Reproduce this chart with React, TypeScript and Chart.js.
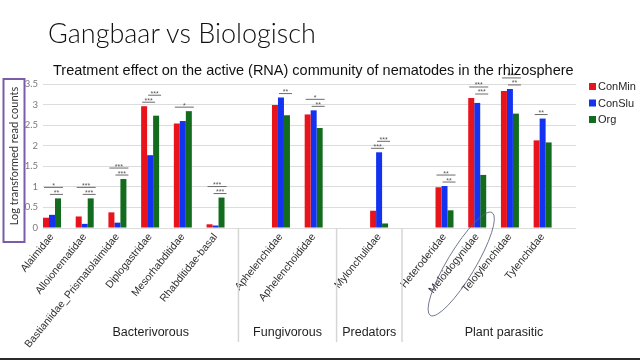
import React, { useEffect, useRef } from 'react';
import { Chart, registerables } from 'chart.js';

Chart.register(...registerables);

// ---- data ----
const categories = [
  'Alaimidae', 'Alloionematidae', 'Bastianiidae_Prismatolaimidae', 'Diplogastridae',
  'Mesorhabditidae', 'Rhabditidae-basal', '', 'Aphelenchidae', 'Aphelenchoididae', '',
  'Mylonchulidae', '', 'Heteroderidae', 'Meloidogynidae', 'Telotylenchidae', 'Tylenchidae',
];
const seriesNames = ['ConMin', 'ConSlu', 'Org'];
const conMin = [0.25, 0.28, 0.38, 2.96, 2.54, 0.09, null, 2.99, 2.76, null, 0.42, null, 0.99, 3.16, 3.33, 2.13];
const conSlu = [0.32, 0.10, 0.13, 1.77, 2.60, 0.06, null, 3.17, 2.86, null, 1.84, null, 1.02, 3.04, 3.38, 2.66];
const org = [0.72, 0.72, 1.19, 2.73, 2.84, 0.74, null, 2.74, 2.43, null, 0.11, null, 0.43, 1.29, 2.78, 2.08];
const yTickValues = [0, 0.5, 1, 1.5, 2, 2.5, 3, 3.5];
const yTickLabels = ['0', '0.5', '1', '1.5', '2', '2.5', '3', '3.5'];

const groupNames = ['Bacterivorous', 'Fungivorous', 'Predators', 'Plant parasitic'];
const groupFirst = ['Alaimidae', 'Aphelenchidae', 'Mylonchulidae', 'Heteroderidae'];
const groupLast = ['Rhabditidae-basal', 'Aphelenchoididae', 'Mylonchulidae', 'Tylenchidae'];

// significance brackets: category, from series, to series, label, tier (0 = lower, 1 = upper)
const sigCategory = [
  'Alaimidae', 'Alaimidae', 'Alloionematidae', 'Alloionematidae',
  'Bastianiidae_Prismatolaimidae', 'Bastianiidae_Prismatolaimidae',
  'Diplogastridae', 'Diplogastridae', 'Mesorhabditidae',
  'Rhabditidae-basal', 'Rhabditidae-basal', 'Aphelenchidae',
  'Aphelenchoididae', 'Aphelenchoididae', 'Mylonchulidae', 'Mylonchulidae',
  'Heteroderidae', 'Heteroderidae', 'Meloidogynidae', 'Meloidogynidae',
  'Telotylenchidae', 'Telotylenchidae', 'Tylenchidae',
];
const sigFrom = [0, 1, 0, 1, 0, 1, 0, 1, 0, 0, 1, 1, 0, 1, 0, 1, 0, 1, 0, 1, 0, 1, 0];
const sigTo = [2, 2, 2, 2, 2, 2, 1, 2, 2, 2, 2, 2, 2, 2, 1, 2, 2, 2, 2, 2, 2, 2, 1];
const sigLabel = ['*', '**', '***', '***', '***', '***', '***', '***', '*', '***', '***', '**',
  '*', '**', '***', '***', '**', '**', '***', '***', '***', '**', '**'];
const sigTier = [1, 0, 1, 0, 1, 0, 0, 1, 0, 1, 0, 0, 1, 0, 0, 1, 1, 0, 1, 0, 1, 0, 0];

const highlighted = 'Meloidogynidae';

const colors = ['#e8141c', '#1433f0', '#136b1e'];
const SANS = '"Liberation Sans", Arial, sans-serif';

const extrasPlugin = {
  id: 'extras',
  afterDatasetsDraw(chart: any) {
    const { ctx, scales } = chart;
    const y = scales.y;
    ctx.save();
    // significance brackets
    sigCategory.forEach((cat, k) => {
      const ci = categories.indexOf(cat);
      const metas = [0, 1, 2].map((d) => chart.getDatasetMeta(d).data[ci]);
      const vals = [conMin[ci], conSlu[ci], org[ci]] as number[];
      const top = y.getPixelForValue(Math.max(...vals));
      const a = metas[sigFrom[k]];
      const b = metas[sigTo[k]];
      const x0 = a.x - a.width / 2 + 1;
      const x1 = b.x + b.width / 2 + 2;
      const ly = top - 4.5 - sigTier[k] * 7;
      ctx.strokeStyle = '#6b6b6b';
      ctx.lineWidth = 1;
      ctx.beginPath();
      ctx.moveTo(x0, ly + 0.5);
      ctx.lineTo(x1, ly + 0.5);
      ctx.stroke();
      ctx.fillStyle = '#555';
      ctx.font = `7px ${SANS}`;
      ctx.textAlign = 'center';
      ctx.textBaseline = 'alphabetic';
      ctx.fillText(sigLabel[k], (x0 + x1) / 2, ly + 1);
    });
    ctx.restore();
  },
  afterDraw(chart: any) {
    const { ctx, chartArea, scales, data } = chart;
    const x = scales.x;
    ctx.save();
    // group separators and group labels
    const bounds: number[] = [chartArea.left + 20];
    for (let g = 0; g < groupNames.length - 1; g++) {
      const last = categories.indexOf(groupLast[g]);
      const next = categories.indexOf(groupFirst[g + 1]);
      const px = x.getPixelForValue((last + next) / 2 - 0.3);
      bounds.push(px);
      ctx.strokeStyle = '#d6d6d6';
      ctx.lineWidth = 1.5;
      ctx.beginPath();
      ctx.moveTo(px, chartArea.bottom);
      ctx.lineTo(px, 342);
      ctx.stroke();
    }
    bounds.push(chartArea.right + 30);
    ctx.fillStyle = '#1e1e1e';
    ctx.font = `12.5px ${SANS}`;
    ctx.textAlign = 'center';
    ctx.textBaseline = 'middle';
    groupNames.forEach((name, g) => {
      ctx.fillText(name, (bounds[g] + bounds[g + 1]) / 2, 333);
    });

    // legend
    data.datasets.forEach((ds: any, i: number) => {
      const cy = 86.5 + i * 16.5;
      ctx.fillStyle = ds.backgroundColor;
      ctx.fillRect(589, cy - 3.5, 7, 7);
      ctx.fillStyle = '#262626';
      ctx.font = `11px ${SANS}`;
      ctx.textAlign = 'left';
      ctx.textBaseline = 'middle';
      ctx.fillText(ds.label, 598, cy + 0.5);
    });

    // purple frame around the axis title
    ctx.strokeStyle = '#7a5ca8';
    ctx.lineWidth = 2;
    ctx.strokeRect(3.5, 79, 21, 163);

    // hand-drawn oval around a highlighted label
    const hx = x.getPixelForValue(categories.indexOf(highlighted));
    ctx.strokeStyle = 'rgba(90,96,125,0.85)';
    ctx.lineWidth = 1;
    ctx.beginPath();
    ctx.ellipse(hx - 16, chartArea.bottom + 36, 60, 14, (-59 * Math.PI) / 180, 0, Math.PI * 2);
    ctx.stroke();
    ctx.restore();
  },
};

export default function App() {
  const ref = useRef<HTMLCanvasElement>(null);

  useEffect(() => {
    document.body.style.margin = '0';
    const series = [conMin, conSlu, org];
    const chart = new Chart(ref.current as HTMLCanvasElement, {
      type: 'bar',
      data: {
        datasets: series.map((vals, d) => ({
          label: seriesNames[d],
          data: categories.map((_, i) => ({ x: i, y: vals[i] })) as any,
          backgroundColor: colors[d],
          borderWidth: 0,
          categoryPercentage: 0.55,
          barPercentage: 1,
        })),
      },
      options: {
        responsive: false,
        animation: false,
        layout: { padding: { left: 0, right: 64, top: 84, bottom: 0 } },
        plugins: {
          legend: { display: false },
          tooltip: { enabled: false },
          title: { display: false },
        },
        scales: {
          x: {
            type: 'linear',
            offset: false,
            min: -0.275,
            max: 16.02,
            grid: { display: false, drawTicks: false },
            border: { display: false },
            afterBuildTicks: (scale: any) => {
              scale.ticks = categories
                .map((c, i) => ({ value: i, label: c }))
                .filter((t) => t.label !== '')
                .map((t) => ({ value: t.value }));
            },
            afterFit: (scale: any) => {
              scale.height = 132;
            },
            ticks: {
              autoSkip: false,
              minRotation: 51,
              maxRotation: 51,
              padding: 3,
              color: '#303030',
              font: { family: SANS, size: 10.5 },
              callback: (v: any) => categories[v] ?? '',
            },
          },
          y: {
            min: 0,
            max: 3.5,
            afterBuildTicks: (scale: any) => {
              scale.ticks = yTickValues.map((v) => ({ value: v }));
            },
            afterFit: (scale: any) => {
              scale.width = 43;
            },
            grid: { color: '#dcdcdc', drawTicks: false, lineWidth: 1 },
            border: { display: false },
            ticks: {
              padding: 5,
              color: '#7a7a7a',
              font: { family: 'Lato, sans-serif', size: 9.5 },
              callback: (v: any) => yTickLabels[yTickValues.indexOf(Number(v))] ?? String(v),
            },
            title: {
              display: true,
              text: 'Log transformed read counts',
              color: '#333',
              font: { family: 'Lato, sans-serif', size: 11 },
              padding: { top: 8, bottom: 0 },
            },
          },
        },
      },
      plugins: [extrasPlugin],
    });
    return () => chart.destroy();
  }, []);

  return (
    <div style={{ position: 'fixed', left: 0, top: 0, width: 640, height: 360, background: '#fff', overflow: 'hidden' }}>
      <canvas ref={ref} width={640} height={360} style={{ position: 'absolute', left: 0, top: 0 }} />
      <div style={{ position: 'absolute', left: 48, top: 19, fontFamily: 'Lato, sans-serif', fontWeight: 300, fontSize: 27, lineHeight: 1, color: '#111', whiteSpace: 'nowrap' }}>
        Gangbaar vs Biologisch
      </div>
      <div style={{ position: 'absolute', left: 53, top: 63, fontFamily: SANS, fontSize: 14.5, lineHeight: 1, color: '#111', whiteSpace: 'nowrap' }}>
        Treatment effect on the active (RNA) community of nematodes in the rhizosphere
      </div>
      <div style={{ position: 'absolute', left: 0, bottom: 0, width: 640, height: 2, background: '#2a2a2a' }} />
    </div>
  );
}
